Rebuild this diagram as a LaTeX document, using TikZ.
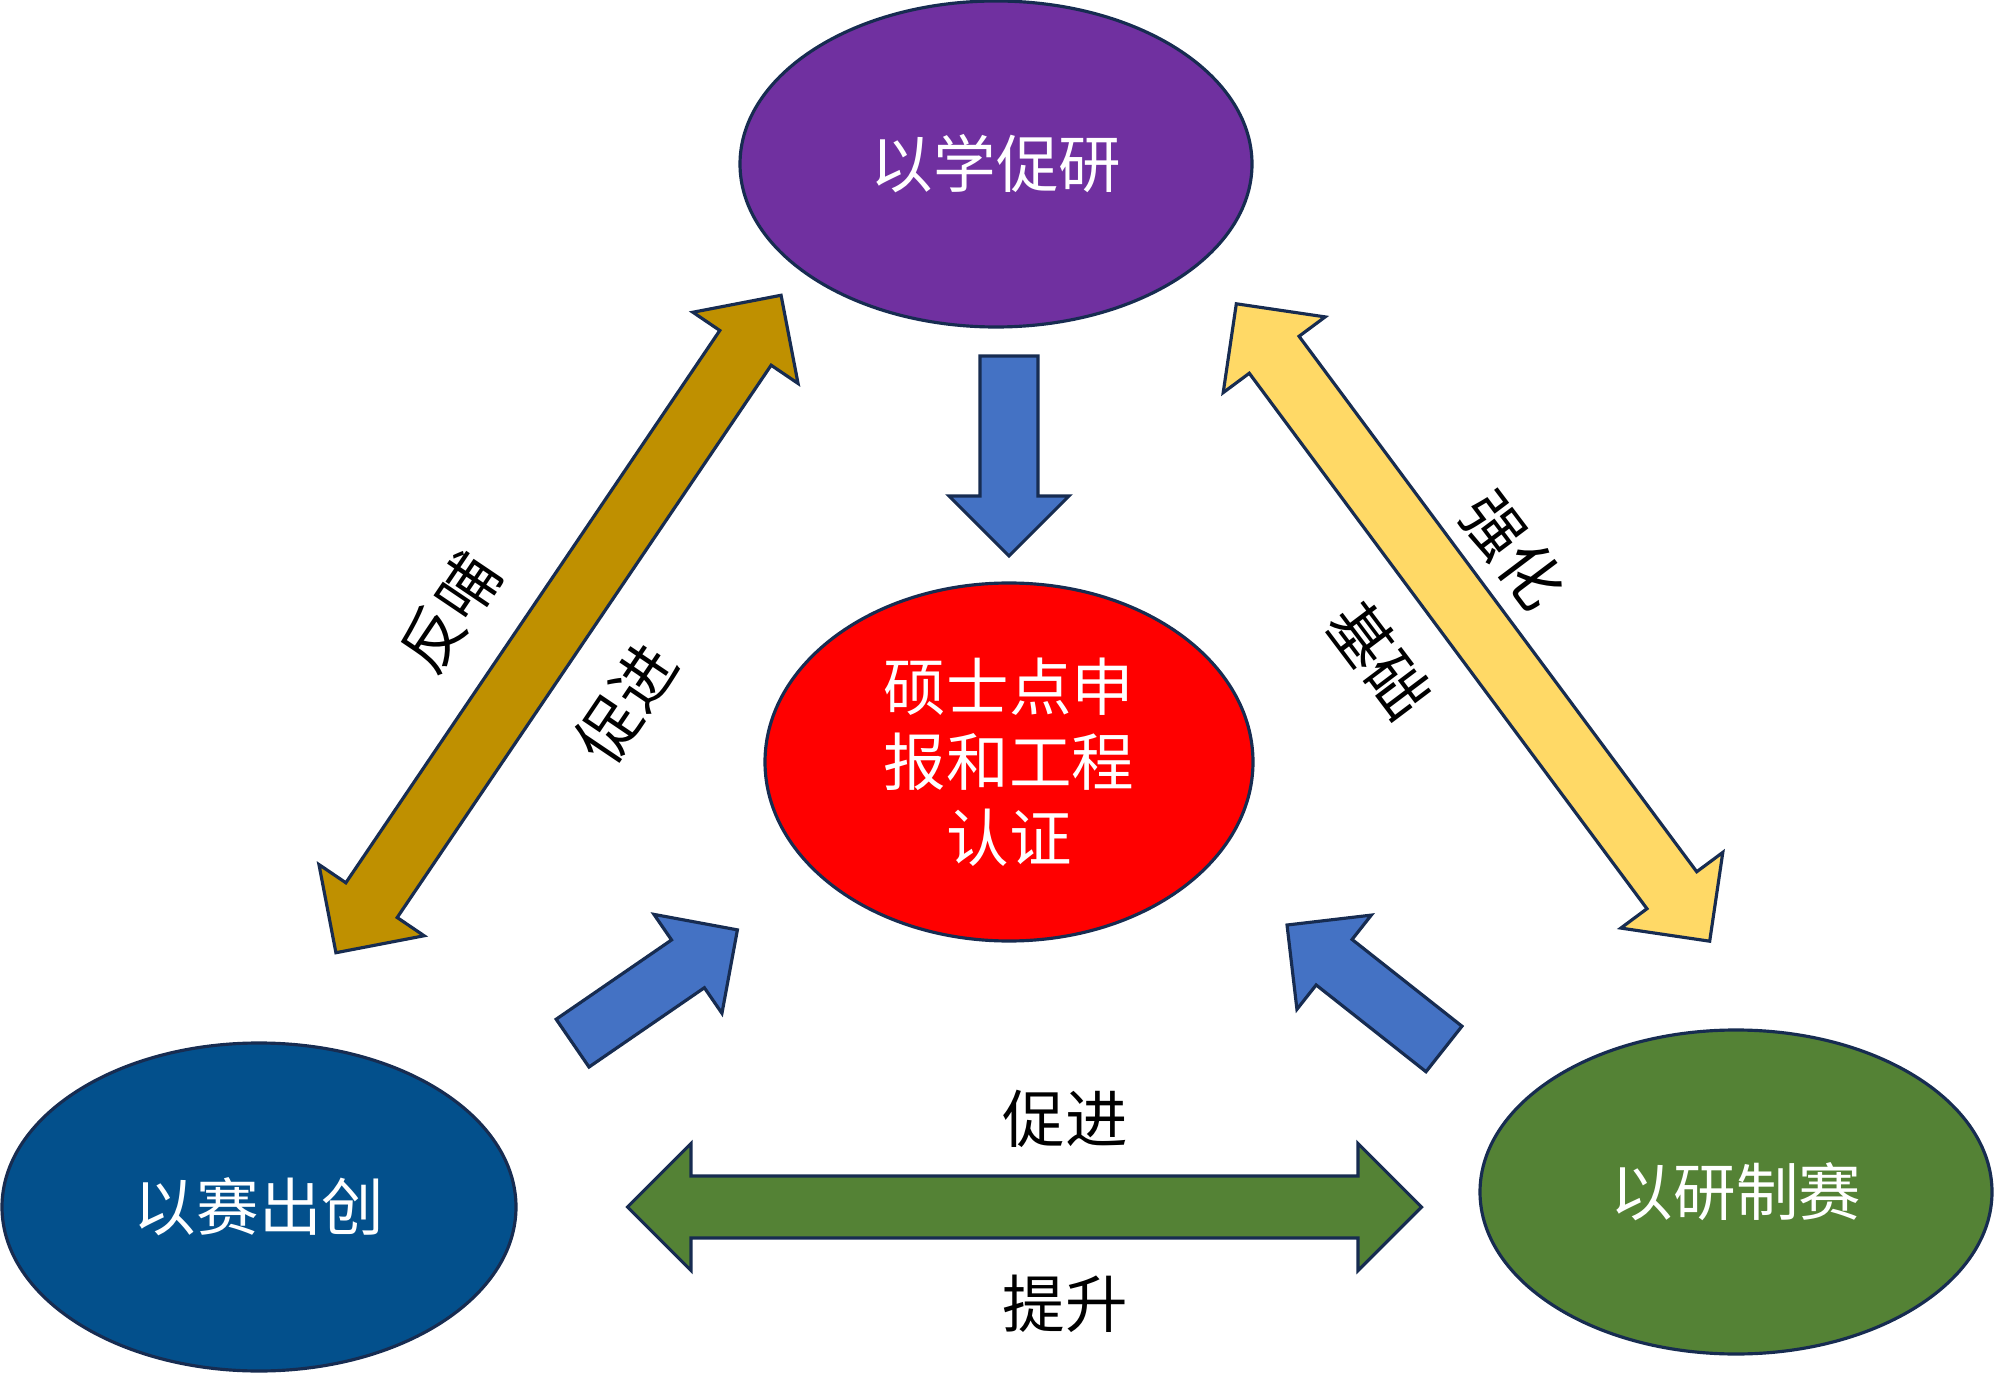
\documentclass[tikz,border=0pt]{standalone}
\usepackage{fontspec}
\setmainfont{Noto Sans CJK SC}
\usetikzlibrary{shapes.geometric}
\definecolor{xuePurple}{HTML}{7030A0}
\definecolor{certRed}{HTML}{FF0000}
\definecolor{saiBlue}{HTML}{03508C}
\definecolor{yanGreen}{HTML}{548235}
\definecolor{flowBlue}{HTML}{4472C4}
\definecolor{feedGold}{HTML}{BF9000}
\definecolor{baseYellow}{HTML}{FFD966}
\definecolor{edgeNavy}{HTML}{172C51}

\begin{document}
\begin{tikzpicture}[every node/.style={font=\fontsize{17.8pt}{21.5pt}\selectfont},
    blob/.style={ellipse, draw=edgeNavy, line width=0.9pt, inner sep=0pt, text=white, align=center},
    edge/.style={draw=edgeNavy, line width=0.9pt},
    pics/onearrow/.style={code={
      \draw[edge, fill=#1] (-1,-0.29) -- (0.4,-0.29) -- (0.4,-0.6) -- (1,0) -- (0.4,0.6) -- (0.4,0.29) -- (-1,0.29) -- cycle;}},
    pics/twoarrow/.style={code={
      \draw[edge, fill=#1] (-3.97,0) -- (-3.335,0.635) -- (-3.335,0.31) -- (3.335,0.31) -- (3.335,0.635) -- (3.97,0)
        -- (3.335,-0.635) -- (3.335,-0.31) -- (-3.335,-0.31) -- (-3.335,-0.635) -- cycle;}}]
  \useasboundingbox (0,0) rectangle (20,13.79);
  % the four ellipses
  \node[blob, fill=xuePurple, minimum width=5.12cm, minimum height=3.26cm] (xue) at (9.96,12.15) {以学促研};
  \node[blob, fill=certRed, minimum width=4.88cm, minimum height=3.58cm] (cert) at (10.09,6.17) {硕士点申\\报和工程\\认证};
  \node[blob, fill=saiBlue, minimum width=5.14cm, minimum height=3.28cm] (sai) at (2.59,1.72) {以赛出创};
  \node[blob, fill=yanGreen, minimum width=5.12cm, minimum height=3.24cm] (yan) at (17.36,1.87) {以研制赛};
  % blue arrows into the centre
  \pic[rotate=-90] (xuein) at (10.09,9.23) {onearrow=flowBlue};
  \pic[rotate=34.5] (saiin) at (6.55,3.925) {onearrow=flowBlue};
  \pic[rotate=141.7] (yanin) at (13.655,3.92) {onearrow=flowBlue};
  % two-way arrows
  \pic[rotate=55.9] (fanbu) at (5.585,7.55) {twoarrow=feedGold};
  \pic[rotate=-53.4] (qianghua) at (14.73,7.565) {twoarrow=baseYellow};
  \pic (tisheng) at (10.245,1.72) {twoarrow=yanGreen};
  \node[rotate=56] (fanbutxt) at (4.50,7.67) {反哺};
  \node[rotate=56] (cujintxt) at (6.26,6.76) {促进};
  \node[rotate=-53] (qhtxt) at (15.13,8.29) {强化};
  \node[rotate=-53] (jctxt) at (13.80,7.19) {基础};
  \node (cjtxt) at (10.65,2.60) {促进};
  \node (tstxt) at (10.65,0.75) {提升};
\end{tikzpicture}
\end{document}
